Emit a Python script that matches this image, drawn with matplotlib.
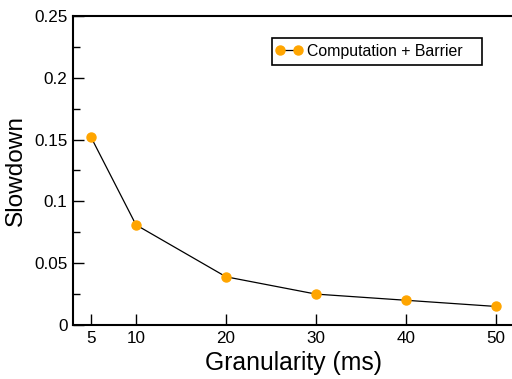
import matplotlib
matplotlib.use("Agg")
import matplotlib.pyplot as plt
from matplotlib.ticker import MultipleLocator
from matplotlib.patches import Rectangle

granularity = [5, 10, 20, 30, 40, 50]
slowdown = [0.152, 0.081, 0.039, 0.025, 0.020, 0.015]
series_label = "Computation + Barrier"
xticks = [5, 10, 20, 30, 40, 50]
yticks = [0, 0.05, 0.1, 0.15, 0.2, 0.25]
ytick_labels = ["0", "0.05", "0.1", "0.15", "0.2", "0.25"]

plt.rcParams['font.family'] = ['Liberation Sans', 'DejaVu Sans']

W, H = 512, 379
fig = plt.figure(figsize=(W/100, H/100), dpi=100)
ax = fig.add_axes([73/W, 1-325/H, 441/W, 309/H])

ax.plot(granularity, slowdown, color='black', linewidth=0.9,
        marker='o', markersize=6.5, markerfacecolor='#FFA500',
        markeredgecolor='#FFA500', label=series_label)

ax.set_xlim(3, 52)
ax.set_ylim(0, 0.25)
ax.set_xticks(xticks)
ax.set_yticks(yticks)
ax.set_yticklabels(ytick_labels)
ax.yaxis.set_minor_locator(MultipleLocator(0.025))
ax.tick_params(axis='both', which='major', direction='in', length=8, width=1,
               labelsize=12.3, pad=4)
ax.tick_params(axis='y', which='minor', direction='in', length=5, width=1)
ax.tick_params(top=False, right=False)
for s in ax.spines.values():
    s.set_linewidth(1.5)

ax.set_xlabel("Granularity (ms)", fontsize=17.8, labelpad=4)
ax.set_ylabel("Slowdown", fontsize=17.6, labelpad=5)

leg = ax.legend(loc='center left', bbox_to_anchor=(275.3/W, 1-51.5/H),
                bbox_transform=fig.transFigure, fontsize=11.4, numpoints=2,
                handlelength=1.74, handletextpad=0.27, borderpad=0,
                frameon=False, borderaxespad=0)
fig.patches.append(Rectangle((272/W, 1-65/H), 210/W, 27/H,
                             transform=fig.transFigure, fill=False,
                             edgecolor='black', linewidth=1.2, zorder=5))

fig.savefig("out.png", dpi=100)
